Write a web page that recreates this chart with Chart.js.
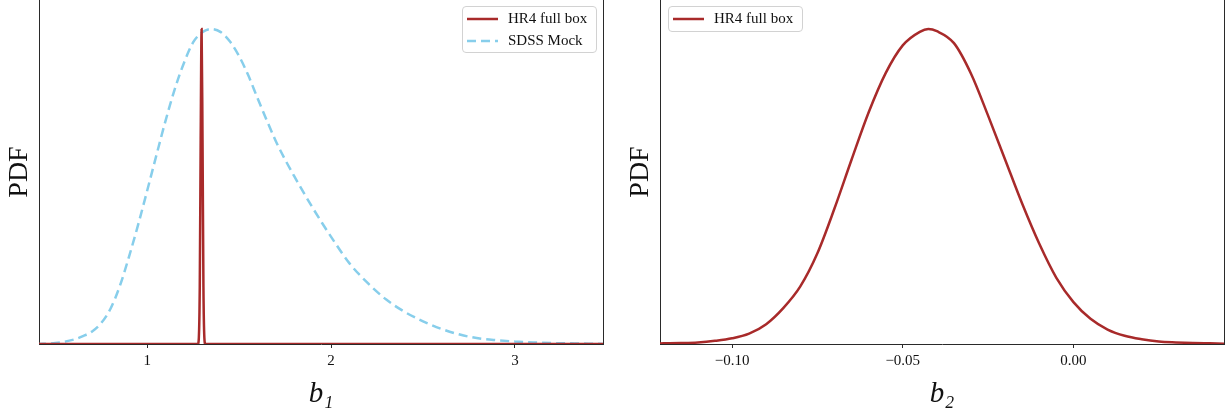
<!DOCTYPE html>
<html><head><meta charset="utf-8">
<script src="https://cdn.jsdelivr.net/npm/chart.js@4.4.1/dist/chart.umd.min.js"></script>
<style>
html,body{margin:0;padding:0;background:#fff;}
body{width:1227px;height:415px;position:relative;overflow:hidden;font-family:"Liberation Serif",serif;}
.cw{position:absolute;top:0;height:415px;width:606px;}
.legend{position:absolute;border:1px solid #d2d2d2;border-radius:4px;background:rgba(255,255,255,0.85);box-sizing:border-box;}
.row{position:absolute;left:0;height:22px;display:flex;align-items:center;white-space:nowrap;font-size:15px;color:#111;font-family:"Liberation Serif",serif;}
.row svg{margin-left:4px;margin-right:10px;display:block;}
</style></head>
<body>
<div class="cw" style="left:0"><canvas id="c1"></canvas></div>
<div class="cw" style="left:621px"><canvas id="c2"></canvas></div>
<div class="legend" id="lg1" style="left:462px;top:6px;width:135px;height:47px"></div>
<div class="legend" id="lg2" style="left:668px;top:6px;width:135px;height:26px"></div>
<script>
// ---- Left panel: b1 ----
const b1Grid  = [0.40,0.50,0.60,0.65,0.70,0.75,0.80,0.85,0.90,0.95,1.00,1.05,1.10,1.15,1.20,1.25,1.30,1.35,1.40,1.45,1.50,1.55,1.60,1.65,1.70,1.75,1.80,1.85,1.90,1.95,2.00,2.10,2.20,2.30,2.40,2.50,2.60,2.70,2.80,2.90,3.00,3.10,3.20,3.30,3.40,3.50];
const sdssPdf = [0.000,0.003,0.014,0.025,0.040,0.067,0.112,0.183,0.276,0.378,0.488,0.600,0.710,0.810,0.893,0.958,0.990,1.000,0.990,0.960,0.913,0.852,0.780,0.710,0.643,0.585,0.532,0.481,0.432,0.385,0.340,0.256,0.193,0.141,0.102,0.072,0.048,0.030,0.018,0.012,0.008,0.005,0.003,0.002,0.001,0.000];
const hr4B1Grid = [0.40,1.2755,1.2805,1.2855,1.2905,1.2955,1.3005,1.3055,1.3105,1.3155,3.50];
const hr4B1Pdf  = [0.00,0.000,0.020,0.180,0.650,1.000,0.650,0.180,0.020,0.000,0.00];
const b1Ticks = [1,2,3];
const b1TickLabels = ['1','2','3'];

// ---- Right panel: b2 ----
const b2Grid = [-0.125,-0.120,-0.115,-0.110,-0.105,-0.100,-0.095,-0.090,-0.085,-0.080,-0.075,-0.070,-0.065,-0.060,-0.055,-0.050,-0.045,-0.0425,-0.040,-0.035,-0.030,-0.025,-0.020,-0.015,-0.010,-0.005,0.000,0.005,0.010,0.015,0.020,0.025,0.030,0.035,0.040,0.045];
const hr4B2Pdf = [0.001,0.002,0.003,0.005,0.010,0.018,0.033,0.063,0.114,0.183,0.288,0.430,0.585,0.735,0.860,0.948,0.991,1.000,0.993,0.955,0.858,0.725,0.585,0.445,0.318,0.210,0.133,0.080,0.046,0.026,0.015,0.008,0.005,0.003,0.002,0.001];
const b2Ticks = [-0.10,-0.05,0.00];
const b2TickLabels = ['\u22120.10','\u22120.05','0.00'];

const RED = '#a82a2a';
const BLUE = '#87ceeb';
const FONT = 'Liberation Serif';
const SPINE = '#2a2a2a';

function pts(xs, ys){ return xs.map((x,i)=>({x:x, y:ys[i]})); }

function makeOptions(xMin, xMax, ticks, labels, xTitle){
  return {
    responsive:true, maintainAspectRatio:false, animation:false,
    layout:{padding:{top:0,right:3,left:0,bottom:0}},
    plugins:{legend:{display:false}, tooltip:{enabled:false}},
    elements:{point:{radius:0}},
    scales:{
      x:{type:'linear', position:'bottom', min:xMin, max:xMax, z:1,
         afterBuildTicks:(ax)=>{ ax.ticks = ticks.map(v=>({value:v})); },
         afterFit:(s)=>{ s.height = 71; },
         grid:{display:true, drawOnChartArea:false, drawTicks:true, tickLength:4, tickColor:SPINE, tickWidth:1},
         border:{display:true, color:SPINE, width:1},
         ticks:{autoSkip:false, maxRotation:0, padding:4, color:'#111',
                font:{family:FONT, size:15},
                callback:(v)=>{ const i = ticks.findIndex(t=>Math.abs(t-v)<1e-9); return i>=0 ? labels[i] : ''; }},
         title:{display:true, text:xTitle, color:'#111', padding:{top:0,bottom:6},
                font:{family:FONT, size:29, style:'italic', lineHeight:1}}
      },
      y:{type:'linear', position:'left', min:0, max:1.092, z:1,
         afterFit:(s)=>{ s.width = 39; },
         grid:{display:false}, ticks:{display:false},
         border:{display:true, color:SPINE, width:1},
         title:{display:true, text:'PDF', color:'#111', padding:{top:6,bottom:0},
                font:{family:FONT, size:28, lineHeight:1}}
      },
      y2:{type:'linear', position:'right', min:0, max:1, z:1,
         afterFit:(s)=>{ s.width = 0; },
         grid:{display:false}, ticks:{display:false},
         border:{display:true, color:SPINE, width:1}
      }
    }
  };
}

const chart1 = new Chart(document.getElementById('c1'), {
  type:'line',
  data:{datasets:[
    {label:'HR4 full box', data:pts(hr4B1Grid, hr4B1Pdf), borderColor:RED, backgroundColor:RED, borderWidth:2.5, cubicInterpolationMode:'monotone', fill:false},
    {label:'SDSS Mock', data:pts(b1Grid, sdssPdf), borderColor:BLUE, backgroundColor:BLUE, borderWidth:2.5, borderDash:[9,5], cubicInterpolationMode:'monotone', fill:false}
  ]},
  options:makeOptions(0.411, 3.479, b1Ticks, b1TickLabels, 'b\u2081')
});

const chart2 = new Chart(document.getElementById('c2'), {
  type:'line',
  data:{datasets:[
    {label:'HR4 full box', data:pts(b2Grid, hr4B2Pdf), borderColor:RED, backgroundColor:RED, borderWidth:2.5, cubicInterpolationMode:'monotone', fill:false}
  ]},
  options:makeOptions(-0.1211, 0.0441, b2Ticks, b2TickLabels, 'b\u2082')
});

function buildLegend(chart, el){
  chart.data.datasets.forEach((ds, i)=>{
    const row = document.createElement('div');
    row.className = 'row';
    row.style.top = (0.5 + 22*i) + 'px';
    const dash = ds.borderDash ? `stroke-dasharray="${ds.borderDash.join(',')}"` : '';
    row.innerHTML = `<svg width="31" height="6"><line x1="0" y1="3" x2="31" y2="3" stroke="${ds.borderColor}" stroke-width="${ds.borderWidth}" ${dash}/></svg><span>${ds.label}</span>`;
    el.appendChild(row);
  });
}
buildLegend(chart1, document.getElementById('lg1'));
buildLegend(chart2, document.getElementById('lg2'));
</script>
</body></html>
